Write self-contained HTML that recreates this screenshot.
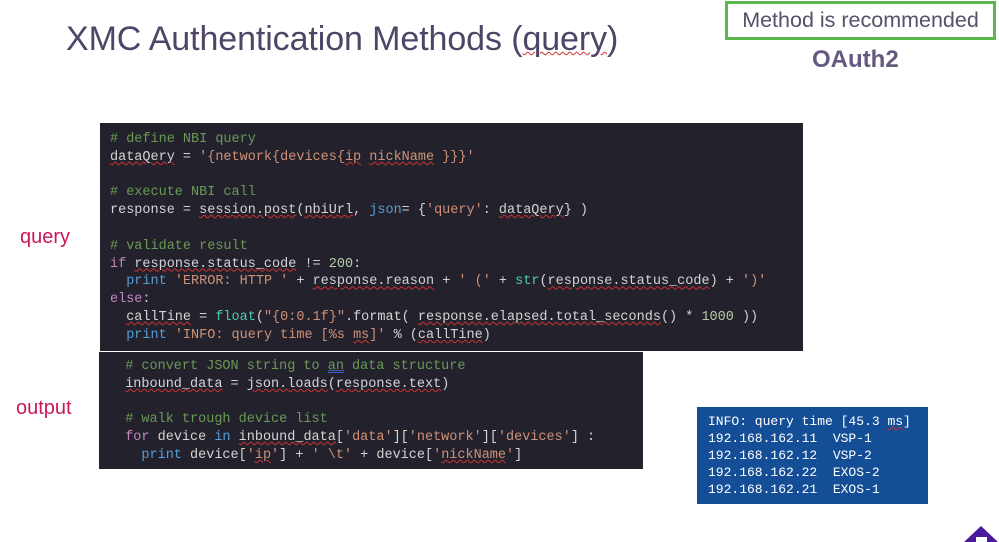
<!DOCTYPE html>
<html><head><meta charset="utf-8"><style>
body{margin:0;width:999px;height:542px;background:#fff;position:relative;overflow:hidden;font-family:"Liberation Sans",sans-serif}
.a{position:absolute}
.code{position:absolute;background:#23222c;font-family:"Liberation Mono",monospace;font-size:13.5px;color:#d4d4d4;white-space:pre;line-height:17.8px;box-sizing:border-box;padding-left:10px}
.c{color:#6a9955}.s{color:#ce9178}.k{color:#c586c0}.p{color:#569cd6}.n{color:#b5cea8}.f{color:#4ec9b0}
.u{text-decoration:underline wavy #d03030;text-decoration-thickness:1px}
</style></head><body>
<div class="a" style="left:66px;top:20px;font-size:34px;color:#4f4566;letter-spacing:-0.1px">XMC Authentication Methods (<span class="u">query</span>)</div>
<div class="a" style="left:725px;top:1px;width:271px;height:39px;box-sizing:border-box;border:3px solid #5cb84c;font-size:21.5px;color:#56506a;text-align:center;line-height:33px">Method is recommended</div>
<div class="a" style="left:812px;top:46px;font-size:24px;font-weight:bold;color:#65597f">OAuth2</div>
<div class="a" style="left:20px;top:226px;font-size:20px;color:#c8185a">query</div>
<div class="a" style="left:16px;top:397px;font-size:20px;color:#c8185a">output</div>
<div class="code" style="left:100px;top:123px;width:703px;height:228px;padding-top:8px"><span class="c"># define NBI query</span>
<span class="u">dataQery</span> = <span class="s">'{network{devices{<span class="u">ip</span> <span class="u">nickName</span> }}}'</span>

<span class="c"># execute NBI call</span>
response = <span class="u">session.post</span>(<span class="u">nbiUrl</span>, <span class="p">json</span>= {<span class="s">'query'</span>: <span class="u">dataQery</span>} )

<span class="c"># validate result</span>
<span class="k">if</span> <span class="u">response.status_code</span> != <span class="n">200</span>:
  <span class="p">print</span> <span class="s">'ERROR: HTTP '</span> + <span class="u">response.reason</span> + <span class="s">' ('</span> + <span class="f">str</span>(<span class="u">response.status_code</span>) + <span class="s">')'</span>
<span class="k">else</span>:
  <span class="u">callTine</span> = <span class="f">float</span>(<span class="s">"{0:0.1f}"</span>.format( <span class="u">response.elapsed.total_seconds</span>() * <span class="n">1000</span> ))
  <span class="p">print</span> <span class="s">'INFO: query time [%s <span class="u">ms</span>]'</span> % (<span class="u">callTine</span>)</div>
<div class="code" style="left:99px;top:352px;width:544px;height:117px;padding-top:6px">  <span class="c"># convert JSON string to <span style="text-decoration:underline double #4060c0">an</span> data structure</span>
  <span class="u">inbound_data</span> = <span class="u">json.loads</span>(<span class="u">response.text</span>)

  <span class="c"># walk trough device list</span>
  <span class="k">for</span> device <span class="p">in</span> <span class="u">inbound_data</span>[<span class="s">'data'</span>][<span class="s">'network'</span>][<span class="s">'devices'</span>] :
    <span class="p">print</span> device[<span class="s">'<span class="u">ip</span>'</span>] + <span class="s">' \t'</span> + device[<span class="s">'<span class="u">nickName</span>'</span>]</div>
<div class="code" style="left:697px;top:407px;width:231px;height:97px;background:#144e96;color:#fff;font-size:13px;line-height:17px;padding-top:6px;padding-left:11px">INFO: query time [45.3 <span class="u">ms</span>]
192.168.162.11  VSP-1
192.168.162.12  VSP-2
192.168.162.22  EXOS-2
192.168.162.21  EXOS-1</div>
<svg class="a" style="left:964px;top:524px" width="35" height="18"><polygon points="0,18 17,2 34,18" fill="#4a1a9a"/><rect x="12" y="13" width="11" height="6" fill="#fff"/></svg>
</body></html>
